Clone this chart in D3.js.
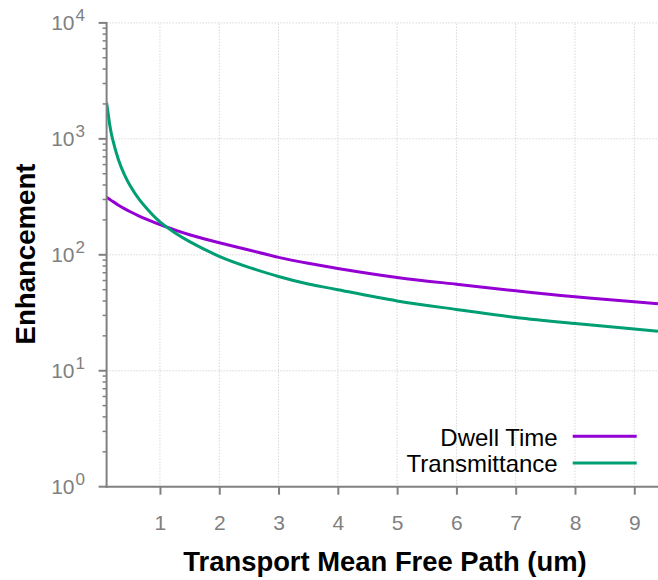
<!DOCTYPE html>
<html>
<head>
<meta charset="utf-8">
<script src="https://cdn.jsdelivr.net/npm/d3@7"></script>
<style>
  html, body { margin: 0; padding: 0; background: #fff; }
  svg { display: block; font-family: "Liberation Sans", Arial, sans-serif; }
</style>
</head>
<body>
<svg id="chart" width="658" height="580"></svg>
<script>
// ---- data ----
const pathLength = [0.1, 0.15, 0.2, 0.3, 0.4, 0.5, 0.65, 0.8, 1.0, 1.25, 1.5, 2, 2.5, 3, 3.5, 4, 5, 6, 7, 8, 9, 9.4];
const transmittance = [2050, 1350, 1000, 660, 492, 392, 300, 243, 192, 155, 130, 97, 78, 65, 56, 50, 40, 33.8, 28.8, 25.6, 22.9, 21.9];
const dwellTime = [313, 301, 289, 268, 250, 235, 216, 200, 182, 164, 149, 127, 110, 95, 84.5, 76.3, 63.8, 55.8, 48.9, 43.4, 39.3, 37.8];
const xTicks = [1, 2, 3, 4, 5, 6, 7, 8, 9];
const yDecades = [0, 1, 2, 3, 4];
const seriesNames = ["Dwell Time", "Transmittance"];
const seriesColors = ["#9400d3", "#009e73"];

const svg = d3.select("#chart");
const axisColor = "#808080";
const x = d3.scaleLinear().domain([0.1, 9.4]).range([106.6, 658]);
const y = d3.scaleLog().domain([1, 1e4]).range([486.7, 22.9]);

// grid
const grid = svg.append("g");
grid.selectAll("line.vg").data(xTicks).join("line")
  .attr("x1", d => x(d)).attr("x2", d => x(d))
  .attr("y1", y(1)).attr("y2", y(1e4))
  .attr("stroke", "#c4c4c4").attr("stroke-width", 1).attr("stroke-dasharray", "1,2");
grid.selectAll("line.hg").data(yDecades.slice(1)).join("line")
  .attr("x1", x(0.1)).attr("x2", 658)
  .attr("y1", d => y(Math.pow(10, d))).attr("y2", d => y(Math.pow(10, d)))
  .attr("stroke", "#c4c4c4").attr("stroke-width", 1).attr("stroke-dasharray", "1,2");

// curves
const defs = svg.append("defs");
defs.append("clipPath").attr("id", "clip").append("rect")
  .attr("x", x(0.1)).attr("y", y(1e4)).attr("width", 658 - x(0.1)).attr("height", y(1) - y(1e4));
const line = d3.line().x(d => x(d[0])).y(d => y(d[1])).curve(d3.curveNatural);
const series = [dwellTime, transmittance];
const plot = svg.append("g").attr("clip-path", "url(#clip)");
series.forEach((s, i) => {
  plot.append("path")
    .datum(pathLength.map((p, j) => [p, s[j]]))
    .attr("d", line)
    .attr("fill", "none")
    .attr("stroke", seriesColors[i])
    .attr("stroke-width", 3);
});

// x axis
const xAxis = d3.axisBottom(x).tickValues(xTicks).tickSize(8).tickFormat(d3.format("d"));
const gx = svg.append("g").attr("transform", `translate(0,${y(1)})`).call(xAxis);
gx.select(".domain").remove();
gx.append("line").attr("x1", x(0.1) - 1).attr("x2", 658).attr("y1", 0).attr("y2", 0)
  .attr("stroke", axisColor).attr("stroke-width", 2);
gx.selectAll(".tick line").attr("stroke", axisColor).attr("stroke-width", 2);
gx.selectAll(".tick text").attr("fill", axisColor).attr("font-size", 21)
  .attr("font-family", "'Liberation Sans', Arial, sans-serif").attr("y", 28.3).attr("dy", "0.71em");

// y axis
const minorVals = [];
yDecades.slice(0, -1).forEach(e => { for (let k = 2; k <= 9; k++) minorVals.push(k * Math.pow(10, e)); });
const gy = svg.append("g");
gy.append("line").attr("x1", x(0.1)).attr("x2", x(0.1)).attr("y1", y(1) + 1).attr("y2", y(1e4) - 1)
  .attr("stroke", axisColor).attr("stroke-width", 2);
gy.selectAll("line.minor").data(minorVals).join("line")
  .attr("x1", x(0.1) - 4).attr("x2", x(0.1)).attr("y1", d => y(d)).attr("y2", d => y(d))
  .attr("stroke", axisColor).attr("stroke-width", 1.5);
gy.selectAll("line.major").data(yDecades).join("line")
  .attr("x1", x(0.1) - 8).attr("x2", x(0.1)).attr("y1", d => y(Math.pow(10, d))).attr("y2", d => y(Math.pow(10, d)))
  .attr("stroke", axisColor).attr("stroke-width", 2);
const yl = gy.selectAll("text.lab").data(yDecades).join("text")
  .attr("x", 85).attr("y", d => y(Math.pow(10, d)) + 7)
  .attr("text-anchor", "end").attr("fill", axisColor).attr("font-size", 21);
yl.append("tspan").text("10");
yl.append("tspan").attr("dx", 1).attr("dy", -9).attr("font-size", 17).text(d => d);

// titles
svg.append("text").attr("x", 385).attr("y", 571).attr("text-anchor", "middle")
  .attr("font-size", 27.4).attr("font-weight", "bold").attr("fill", "#000")
  .text("Transport Mean Free Path (um)");
svg.append("text").attr("transform", "translate(35,254) rotate(-90)").attr("text-anchor", "middle")
  .attr("font-size", 27.6).attr("font-weight", "bold").attr("fill", "#000")
  .text("Enhancement");

// legend
const legY = [436.3, 463];
const leg = svg.append("g");
seriesNames.forEach((n, i) => {
  leg.append("text").attr("x", 557.7).attr("y", legY[i] + 9.2).attr("text-anchor", "end")
    .attr("font-size", 24).attr("fill", "#000").text(n);
  leg.append("line").attr("x1", 572.7).attr("x2", 636.7).attr("y1", legY[i]).attr("y2", legY[i])
    .attr("stroke", seriesColors[i]).attr("stroke-width", 3);
});
</script>
</body>
</html>
